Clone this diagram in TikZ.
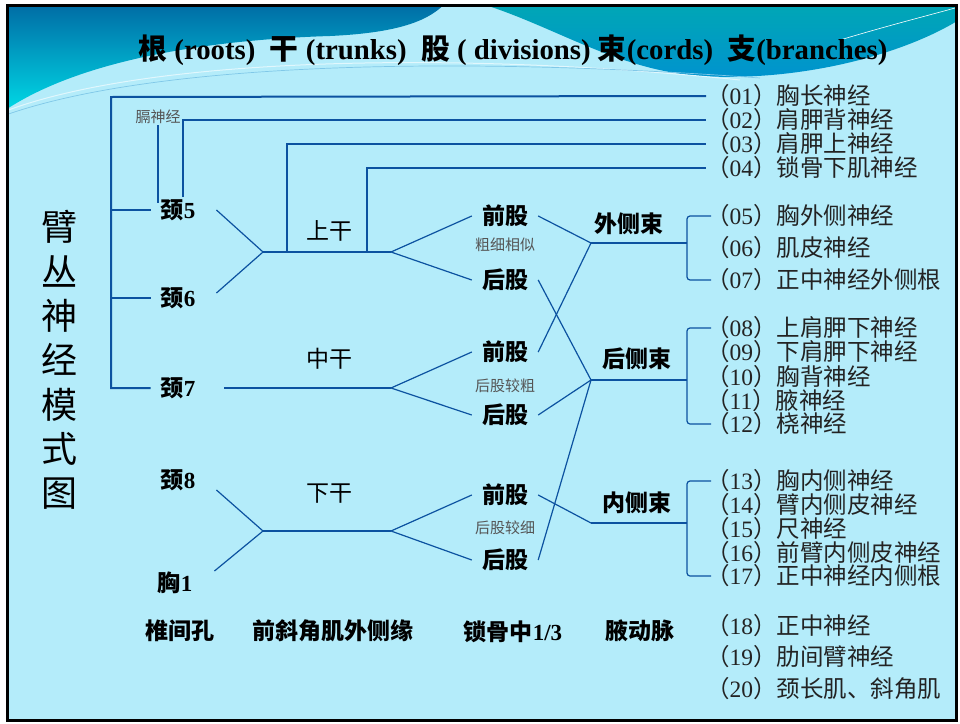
\documentclass[tikz,border=0pt]{standalone}
\usepackage{fontspec}
\setmainfont{Liberation Serif}
\newfontfamily\cjk{Noto Sans CJK SC}
\usepackage{tikz}
\usetikzlibrary{positioning,calc}

\definecolor{nerve}{RGB}{12,82,160}
\definecolor{slide}{RGB}{180,236,250}
\definecolor{deepsea}{RGB}{0,110,166}
\definecolor{lagoon}{RGB}{0,214,228}
\definecolor{seateal}{RGB}{0,166,182}
\definecolor{oceanblue}{RGB}{0,146,208}
\definecolor{notegray}{RGB}{85,85,85}
\definecolor{inktext}{RGB}{35,35,35}

\begin{document}
\begin{tikzpicture}[x=1pt, y=-1pt,
  lbl/.style={font=\cjk\bfseries\fontsize{23}{23}\selectfont, inner xsep=10pt, inner ysep=2pt},
  trunklbl/.style={font=\cjk\fontsize{23}{23}\selectfont},
  note/.style={font=\cjk\fontsize{15}{15}\selectfont, text=notegray, inner sep=1pt},
  item/.style={font=\cjk\fontsize{23.5}{24}\selectfont, text=inktext, anchor=west, inner sep=0pt},
  fatline/.style={draw=nerve, line width=2pt},
  thinline/.style={draw=nerve, line width=1.2pt},
  bracket/.style={draw=nerve, line width=1.2pt, rounded corners=3pt}]

  % slide background
  \useasboundingbox (0,0) rectangle (960,723);
  \fill[white] (0,0) rectangle (960,723);
  \fill[slide] (7.5,5.5) rectangle (956.5,720.5);
  \shade[top color=deepsea, bottom color=lagoon] (8.5,6.5) -- (8.5,108) .. controls (80,62) and (200,40) .. (330,36) .. controls (395,33) and (425,22) .. (442,6.5) -- cycle;
  \shade[top color=seateal, bottom color=oceanblue] (490,6.5) .. controls (560,30) and (620,70) .. (700,76) .. controls (800,82) and (900,55) .. (955.5,22) -- (955.5,6.5) -- cycle;
  \draw[white!60!slide, line width=1pt] (8.5,110) .. controls (150,58) and (450,50) .. (740,80);
  \draw[oceanblue!50!white, line width=0.7pt] (8.5,114) .. controls (160,62) and (460,56) .. (760,78);
  \draw[white, line width=0.6pt] (840,40) .. controls (890,25) and (930,15) .. (955,8);
  \draw[black, line width=2.5pt] (7.5,5.5) rectangle (956.5,720.5);

  \node[font=\bfseries\fontsize{28.8}{29}\selectfont] (title) at (513,50) {{\cjk 根} (roots)\ \ {\cjk 干} (trunks)\ \ {\cjk 股} ( divisions) {\cjk 束}(cords)\ \ {\cjk 支}(branches)};
  \node[font=\cjk\fontsize{36}{44.3}\selectfont, align=center] (heading) at (59,360) {臂\\丛\\神\\经\\模\\式\\图};

  % roots
  \node[lbl] (c5) at (178,210) {颈{\rmfamily 5}};
  \node[lbl] (c6) at (178,298) {颈{\rmfamily 6}};
  \node[lbl] (c7) at (178,388) {颈{\rmfamily 7}};
  \node[lbl] (c8) at (178,480) {颈{\rmfamily 8}};
  \node[lbl] (t1) at (175,583) {胸{\rmfamily 1}};
  \node[note] (phr) at (158,117) {膈神经};

  % divisions
  \node[lbl] (aU) at (505,216) {前股};
  \node[note] (n1) at (505,245) {粗细相似};
  \node[lbl] (pU) at (505,280) {后股};
  \node[lbl] (aM) at (505,352) {前股};
  \node[note] (n2) at (505,386) {后股较粗};
  \node[lbl] (pM) at (505,415) {后股};
  \node[lbl] (aL) at (505,495) {前股};
  \node[note] (n3) at (505,528) {后股较细};
  \node[lbl] (pL) at (505,560) {后股};

  % trunks and cords
  \node[trunklbl] (up) at (329,231) {上干};
  \node[trunklbl] (mid) at (329,359) {中干};
  \node[trunklbl] (low) at (329,494) {下干};
  \node[lbl] (lat) at (629,224) {外侧束};
  \node[lbl] (pos) at (637,359) {后侧束};
  \node[lbl] (med) at (637,503) {内侧束};

  \node[lbl] (foramen) at (180,631) {椎间孔};
  \node[lbl] (scal) at (333,631) {前斜角肌外侧缘};
  \node[lbl] (clav) at (513,632) {锁骨中{\rmfamily 1/3}};
  \node[lbl] (axil) at (640,631) {腋动脉};

  % branches
  \node[item] (b01) at (706,96) {（{\rmfamily 01}）胸长神经};
  \node[item] (b02) at (706,120) {（{\rmfamily 02}）肩胛背神经};
  \node[item] (b03) at (706,144) {（{\rmfamily 03}）肩胛上神经};
  \node[item] (b04) at (706,168) {（{\rmfamily 04}）锁骨下肌神经};
  \node[item] (b05) at (706,216) {（{\rmfamily 05}）胸外侧神经};
  \node[item] (b06) at (706,248) {（{\rmfamily 06}）肌皮神经};
  \node[item] (b07) at (706,280) {（{\rmfamily 07}）正中神经外侧根};
  \node[item] (b08) at (706,328) {（{\rmfamily 08}）上肩胛下神经};
  \node[item] (b09) at (706,352) {（{\rmfamily 09}）下肩胛下神经};
  \node[item] (b10) at (706,377) {（{\rmfamily 10}）胸背神经};
  \node[item] (b11) at (706,401) {（{\rmfamily 11}）腋神经};
  \node[item] (b12) at (706,424) {（{\rmfamily 12}）桡神经};
  \node[item] (b13) at (706,481) {（{\rmfamily 13}）胸内侧神经};
  \node[item] (b14) at (706,505) {（{\rmfamily 14}）臂内侧皮神经};
  \node[item] (b15) at (706,529) {（{\rmfamily 15}）尺神经};
  \node[item] (b16) at (706,553) {（{\rmfamily 16}）前臂内侧皮神经};
  \node[item] (b17) at (706,576) {（{\rmfamily 17}）正中神经内侧根};
  \node[item] (b18) at (706,626) {（{\rmfamily 18}）正中神经};
  \node[item] (b19) at (706,657) {（{\rmfamily 19}）肋间臂神经};
  \node[item] (b20) at (706,689) {（{\rmfamily 20}）颈长肌、斜角肌};

  \coordinate (rtop) at (111,97);
  \coordinate (ju) at (263,252);
  \coordinate (su) at (391,252);
  \coordinate (u3) at (287,252);
  \coordinate (u4) at (367,252);
  \coordinate (sm) at (391,388);
  \coordinate (jl) at (263,531);
  \coordinate (sl) at (391,531);
  \coordinate (latj) at (591,243);
  \coordinate (latk) at (687,243);
  \coordinate (posj) at (591,380);
  \coordinate (posk) at (687,380);
  \coordinate (medj) at (591,523);
  \coordinate (medk) at (687,523);

  \draw[fatline] (b01.west) -- (rtop) |- (c7.west);
  \draw[fatline] (rtop |- c5.west) -- (c5.west);
  \draw[fatline] (rtop |- c6.west) -- (c6.west);
  \draw[fatline] (phr.south) -- ([yshift=-6pt]phr.south |- c5.north);
  \draw[fatline] ([xshift=5pt]c5.north) |- (b02.west);
  \draw[fatline] (u3) |- (b03.west);
  \draw[fatline] (u4) |- (b04.west);

  \draw[thinline] ([xshift=11pt]c5.east) -- (ju) -- ([xshift=11pt,yshift=5pt]c6.east);
  \draw[fatline] (ju) -- (su);
  \draw[thinline] (aU.west) -- (su) -- (pU.west);
  \draw[fatline] ([xshift=19pt]c7.east) -- (sm);
  \draw[thinline] (aM.west) -- (sm) -- (pM.west);
  \draw[thinline] ([xshift=11pt,yshift=-10pt]c8.east) -- (jl) -- ([xshift=12pt,yshift=12pt]t1.east);
  \draw[thinline] (jl) -- (sl);
  \draw[thinline] (aL.west) -- (sl) -- (pL.west);

  \draw[thinline] (aU.east) -- (latj) -- (aM.east);
  \draw[thinline] (pU.east) -- (posj) -- (pM.east);
  \draw[thinline] (posj) -- (pL.east);
  \draw[thinline] (aL.east) -- (medj);
  \draw[fatline] (latj) -- (latk);
  \draw[fatline] (posj) -- (posk);
  \draw[fatline] (medj) -- (medk);

  \draw[bracket] ([xshift=5pt]b05.west) -| (latk) |- ([xshift=5pt]b07.west);
  \draw[bracket] ([xshift=5pt]b08.west) -| (posk) |- ([xshift=5pt]b12.west);
  \draw[bracket] ([xshift=5pt]b13.west) -| (medk) |- ([xshift=5pt]b17.west);
\end{tikzpicture}
\end{document}
